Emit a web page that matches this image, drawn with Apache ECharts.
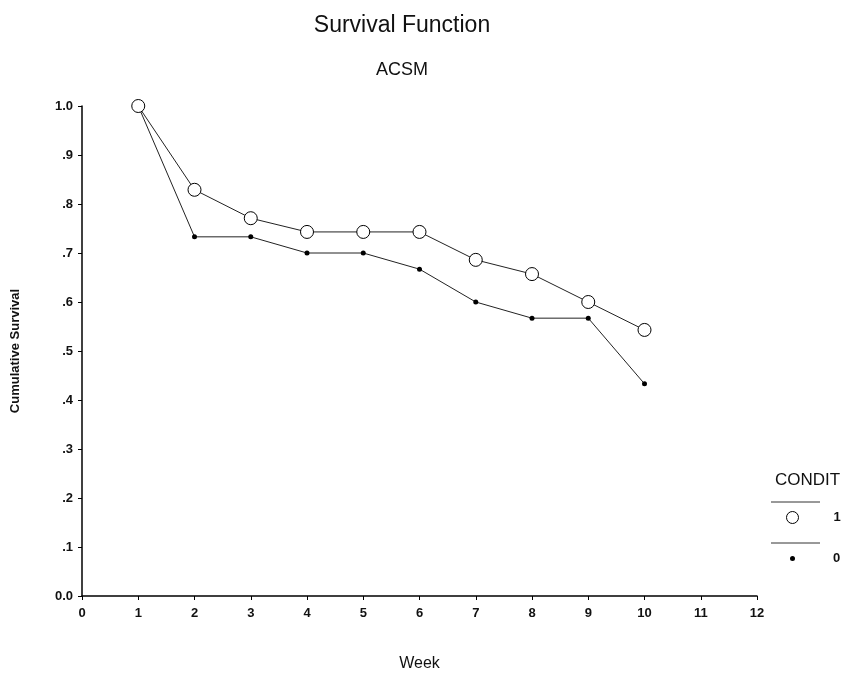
<!DOCTYPE html>
<html>
<head>
<meta charset="utf-8">
<script src="https://cdn.jsdelivr.net/npm/echarts@6/dist/echarts.min.js"></script>
<style>
  html, body { margin: 0; padding: 0; background: #fff; }
  #main { width: 857px; height: 677px; }
</style>
</head>
<body>
<div id="main"></div>
<script>
var weeks = [1, 2, 3, 4, 5, 6, 7, 8, 9, 10];
var condit1 = [1.0, 0.829, 0.771, 0.743, 0.743, 0.743, 0.686, 0.657, 0.600, 0.543];
var condit0 = [1.0, 0.733, 0.733, 0.700, 0.700, 0.667, 0.600, 0.567, 0.567, 0.433];

function pairs(xs, ys) {
    return xs.map(function (x, i) { return [x, ys[i]]; });
}

var myChart = echarts.init(document.getElementById('main'));
var font = 'Liberation Sans, Arial, sans-serif';

var option = {
    backgroundColor: '#fff',
    textStyle: { fontFamily: font, color: '#000' },
    title: [{
        text: 'Survival Function',
        left: 397,
        top: 9,
        textAlign: 'center',
        textStyle: { fontSize: 23, fontWeight: 'normal', color: '#111', fontFamily: font }
    }, {
        text: 'ACSM',
        left: 397,
        top: 56,
        textAlign: 'center',
        textStyle: { fontSize: 18, fontWeight: 'normal', color: '#111', fontFamily: font }
    }, {
        text: 'CONDIT',
        left: 770,
        top: 467,
        textStyle: { fontSize: 17, fontWeight: 'normal', color: '#111', fontFamily: font }
    }],
    legend: [{
        data: [{ name: '1', icon: 'circle' }],
        left: 781,
        top: 506,
        itemWidth: 12,
        itemHeight: 12,
        itemStyle: { color: '#fff', borderColor: '#000', borderWidth: 1 },
        textStyle: { fontSize: 13, fontWeight: 'bold', color: '#111', padding: [0, 0, 0, 30] }
    }, {
        data: [{ name: '0', icon: 'circle' }],
        left: 785,
        top: 547,
        itemWidth: 5,
        itemHeight: 5,
        itemStyle: { color: '#000' },
        textStyle: { fontSize: 13, fontWeight: 'bold', color: '#111', padding: [0, 0, 0, 33] }
    }],
    graphic: [{
        type: 'line', shape: { x1: 771, y1: 502, x2: 820, y2: 502 },
        style: { stroke: '#333', lineWidth: 1 }
    }, {
        type: 'line', shape: { x1: 771, y1: 543, x2: 820, y2: 543 },
        style: { stroke: '#333', lineWidth: 1 }
    }],
    grid: { left: 82, right: 100, top: 106, bottom: 81 },
    xAxis: {
        type: 'value',
        min: 0,
        max: 12,
        interval: 1,
        name: 'Week',
        nameLocation: 'middle',
        nameGap: 60,
        nameTextStyle: { fontSize: 16, color: '#111' },
        splitLine: { show: false },
        axisLine: { onZero: false, lineStyle: { color: '#000', width: 1.5 } },
        axisTick: { length: 4, lineStyle: { color: '#000' } },
        axisLabel: { fontSize: 13, fontWeight: 'bold', color: '#111', margin: 11 }
    },
    yAxis: {
        type: 'value',
        min: 0,
        max: 1,
        interval: 0.1,
        name: 'Cumulative Survival',
        nameLocation: 'middle',
        nameGap: 60,
        nameTextStyle: { fontSize: 13, fontWeight: 'bold', color: '#111' },
        splitLine: { show: false },
        axisLine: { show: true, lineStyle: { color: '#000', width: 1.5 } },
        axisTick: { show: true, length: 4, lineStyle: { color: '#000' } },
        axisLabel: {
            fontSize: 13,
            fontWeight: 'bold',
            color: '#111',
            margin: 9,
            formatter: function (v) {
                if (v === 0) return '0.0';
                if (v === 1) return '1.0';
                return '.' + Math.round(v * 10);
            }
        }
    },
    series: [{
        name: '1',
        type: 'line',
        data: pairs(weeks, condit1),
        symbol: 'circle',
        symbolSize: 13,
        lineStyle: { color: '#222', width: 1 },
        itemStyle: { color: '#fff', borderColor: '#000', borderWidth: 1 },
        z: 3
    }, {
        name: '0',
        type: 'line',
        data: pairs(weeks, condit0),
        symbol: 'circle',
        symbolSize: 5,
        lineStyle: { color: '#222', width: 1 },
        itemStyle: { color: '#000' },
        z: 2
    }]
};

myChart.setOption(option);
</script>
</body>
</html>
